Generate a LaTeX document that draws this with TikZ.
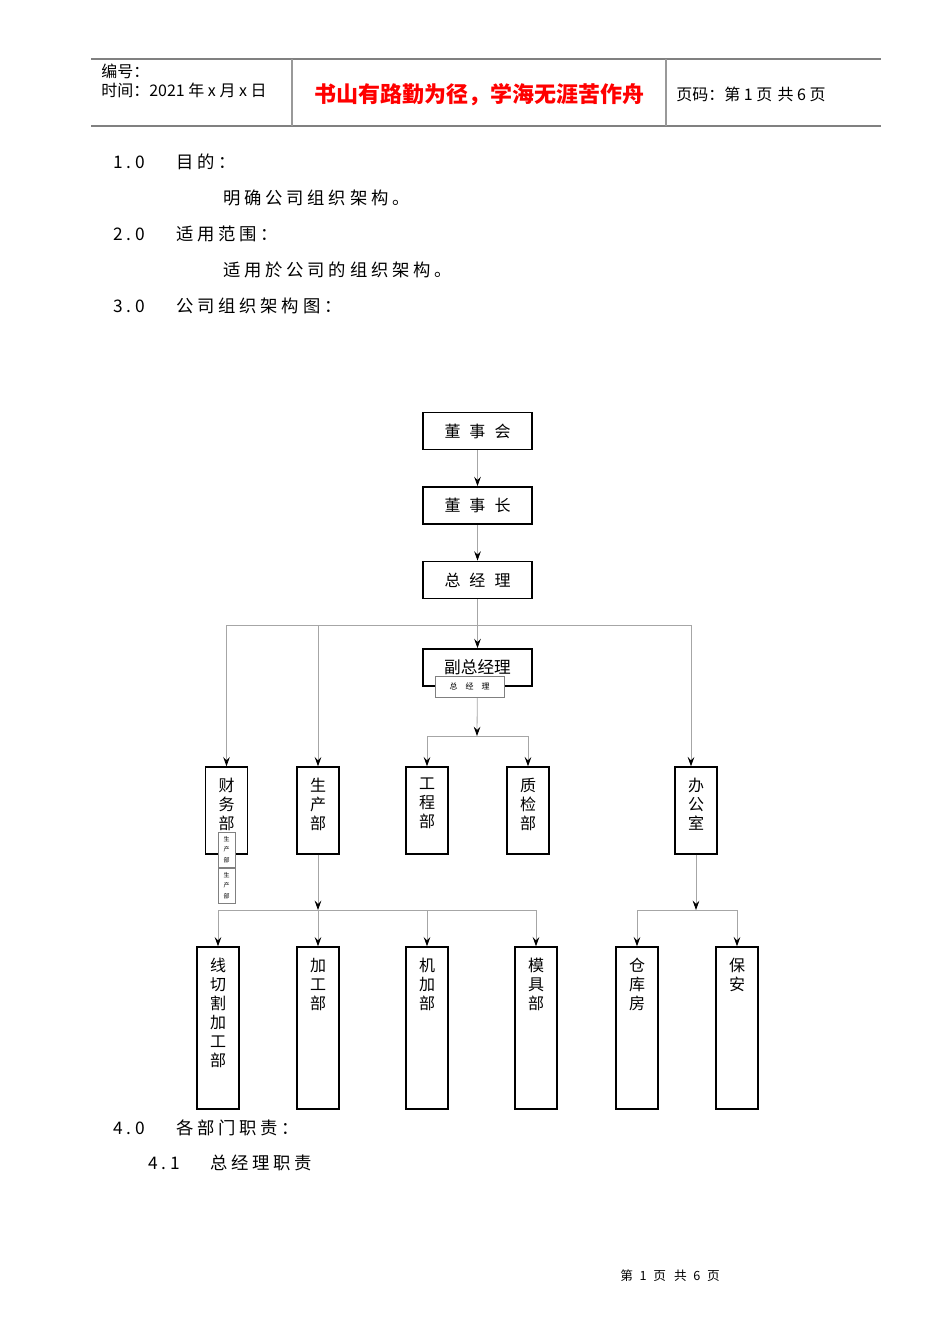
\documentclass[tikz,border=0pt]{standalone}
\usepackage{fontspec}
\setmainfont{Noto Sans CJK SC}
\usetikzlibrary{positioning,arrows.meta}

\begin{document}
\begin{tikzpicture}[x=0.75pt, y=-0.75pt,
  box/.style={draw, line width=1.1pt, minimum width=81.75pt, minimum height=28pt, inner sep=0pt, font=\fontsize{12}{14}\selectfont},
  dept/.style={draw, line width=1.1pt, minimum width=31.5pt, minimum height=65.25pt, inner sep=0pt},
  unit/.style={dept, minimum height=121.5pt},
  col/.style={inner sep=0pt, align=center, font=\fontsize{12}{14.25}\selectfont},
  tag/.style={draw=gray, fill=white, inner sep=0pt, align=center},
  link/.style={draw=gray!70, line width=0.6pt},
  arrow/.style={link, -{Stealth[length=7pt, width=5pt, inset=2.5pt, color=black]}},
  body/.style={anchor=west, inner sep=0pt, font=\fontsize{13}{15}\selectfont\addfontfeature{LetterSpace=22}},
  head/.style={anchor=west, inner sep=0pt, font=\fontsize{12}{14}\selectfont}
]
\useasboundingbox (0,0) rectangle (950,1344);

% page header
\draw[gray, line width=1.1pt] (91,59) -- (881,59) (91,126) -- (881,126);
\draw[gray!80, line width=0.8pt] (292,59) -- (292,126) (666,59) -- (666,126);
\node[head] (hno) at (101,71) {编号：};
\node[head] (htime) at (101,90) {时间：2021 年 x 月 x 日};
\node[font=\fontsize{16.5}{18}\selectfont\bfseries, text=red, inner sep=0pt] (motto) at (479,95) {书山有路勤为径，学海无涯苦作舟};
\node[head] (hpage) at (676,94) {页码：第 1 页\hspace{4pt}共 6 页};

% text
\node[body] (s1) at (113,162) {1.0};
\node[body] (s1t) at (176,162) {目的：};
\node[body] (s1b) at (223,198) {明确公司组织架构。};
\node[body] (s2) at (113,234) {2.0};
\node[body] (s2t) at (176,234) {适用范围：};
\node[body] (s2b) at (223,270) {适用於公司的组织架构。};
\node[body] (s3) at (113,306) {3.0};
\node[body] (s3t) at (176,306) {公司组织架构图：};
\node[body] (s4) at (113,1128) {4.0};
\node[body] (s4t) at (176,1128) {各部门职责：};
\node[body] (s41) at (148,1163) {4.1};
\node[body] (s41t) at (210,1163) {总经理职责};
\node[font=\fontsize{9.5}{11}\selectfont, inner sep=0pt] (foot) at (670,1276)
  {第\hspace{5pt}1\hspace{5pt}页\hspace{6pt}共\hspace{5pt}6\hspace{5pt}页};

% chart
\node[box] (board) at (477.5,431) {董\hspace{6.75pt}事\hspace{6.75pt}会};
\node[box] (chair) at (477.5,505.5) {董\hspace{6.75pt}事\hspace{6.75pt}长};
\node[box] (gm) at (477.5,580) {总\hspace{6.75pt}经\hspace{6.75pt}理};
\node[box, font=\fontsize{12.5}{14}\selectfont] (vgm) at (477.5,667.5) {副总经理};

\node[dept] (fin) at (226.5,810.5) {};
\node[dept] (prod) at (318,810.5) {};
\node[dept] (eng) at (427,810.5) {};
\node[dept] (qc) at (528,810.5) {};
\node[dept] (office) at (696,810.5) {};
\node[col, below=8.5pt of fin.north] (fint) {财\\务\\部};
\node[col, below=8.5pt of prod.north] (prodt) {生\\产\\部};
\node[col, below=8.5pt of eng.north] (engt) {工\\程\\部};
\node[col, below=8.5pt of qc.north] (qct) {质\\检\\部};
\node[col, below=8.5pt of office.north] (officet) {办\\公\\室};

\node[unit] (wire) at (218,1028) {};
\node[unit] (proc) at (318,1028) {};
\node[unit] (mach) at (427,1028) {};
\node[unit] (mould) at (536,1028) {};
\node[unit] (store) at (637,1028) {};
\node[unit] (guard) at (737,1028) {};
\node[col, below=8.5pt of wire.north] (wiret) {线\\切\\割\\加\\工\\部};
\node[col, below=8.5pt of proc.north] (proct) {加\\工\\部};
\node[col, below=8.5pt of mach.north] (macht) {机\\加\\部};
\node[col, below=8.5pt of mould.north] (mouldt) {模\\具\\部};
\node[col, below=8.5pt of store.north] (storet) {仓\\库\\房};
\node[col, below=8.5pt of guard.north] (guardt) {保\\安};

\coordinate (gmbus) at (477,625);
\coordinate (vgmbus) at (477,736);
\coordinate (prodbus) at (318,910);
\coordinate (offbus) at (696,910);
\coordinate (officein) at ([xshift=-3.75pt]office.north);

\draw[arrow] (board) -- (chair);
\draw[arrow] (chair) -- (gm);
\draw[arrow] (gm) -- (vgm);
\draw[link] (fin.north |- gmbus) -- (officein |- gmbus);
\foreach \d in {fin,prod}
  \draw[arrow] (\d.north |- gmbus) -- (\d.north);
\draw[arrow] (officein |- gmbus) -- (officein);
\draw[arrow] (vgm) -- (vgmbus);
\draw[link] (eng.north |- vgmbus) -- (qc.north |- vgmbus);
\foreach \d in {eng,qc}
  \draw[arrow] (\d.north |- vgmbus) -- (\d.north);
\draw[arrow] (prod) -- (prodbus);
\draw[link] (wire.north |- prodbus) -- (mould.north |- prodbus);
\foreach \d in {wire,proc,mach,mould}
  \draw[arrow] (\d.north |- prodbus) -- (\d.north);
\draw[arrow] (office) -- (offbus);
\draw[link] (store.north |- offbus) -- (guard.north |- offbus);
\foreach \d in {store,guard}
  \draw[arrow] (\d.north |- offbus) -- (\d.north);

% overlapping tags
\node[tag, minimum width=51.75pt, minimum height=15.75pt, font=\fontsize{6}{7}\selectfont] (vgmtag) at (469.5,686.5) {总\hspace{6pt}经\hspace{6pt}理};
\node[tag, minimum width=12.75pt, minimum height=26.25pt, font=\fontsize{4.5}{8}\selectfont] (fintag1) at (226.5,849.5) {生\\产\\部};
\node[tag, minimum width=12.75pt, minimum height=26.25pt, font=\fontsize{4.5}{8}\selectfont] (fintag2) at (226.5,885.5) {生\\产\\部};
\end{tikzpicture}
\end{document}
